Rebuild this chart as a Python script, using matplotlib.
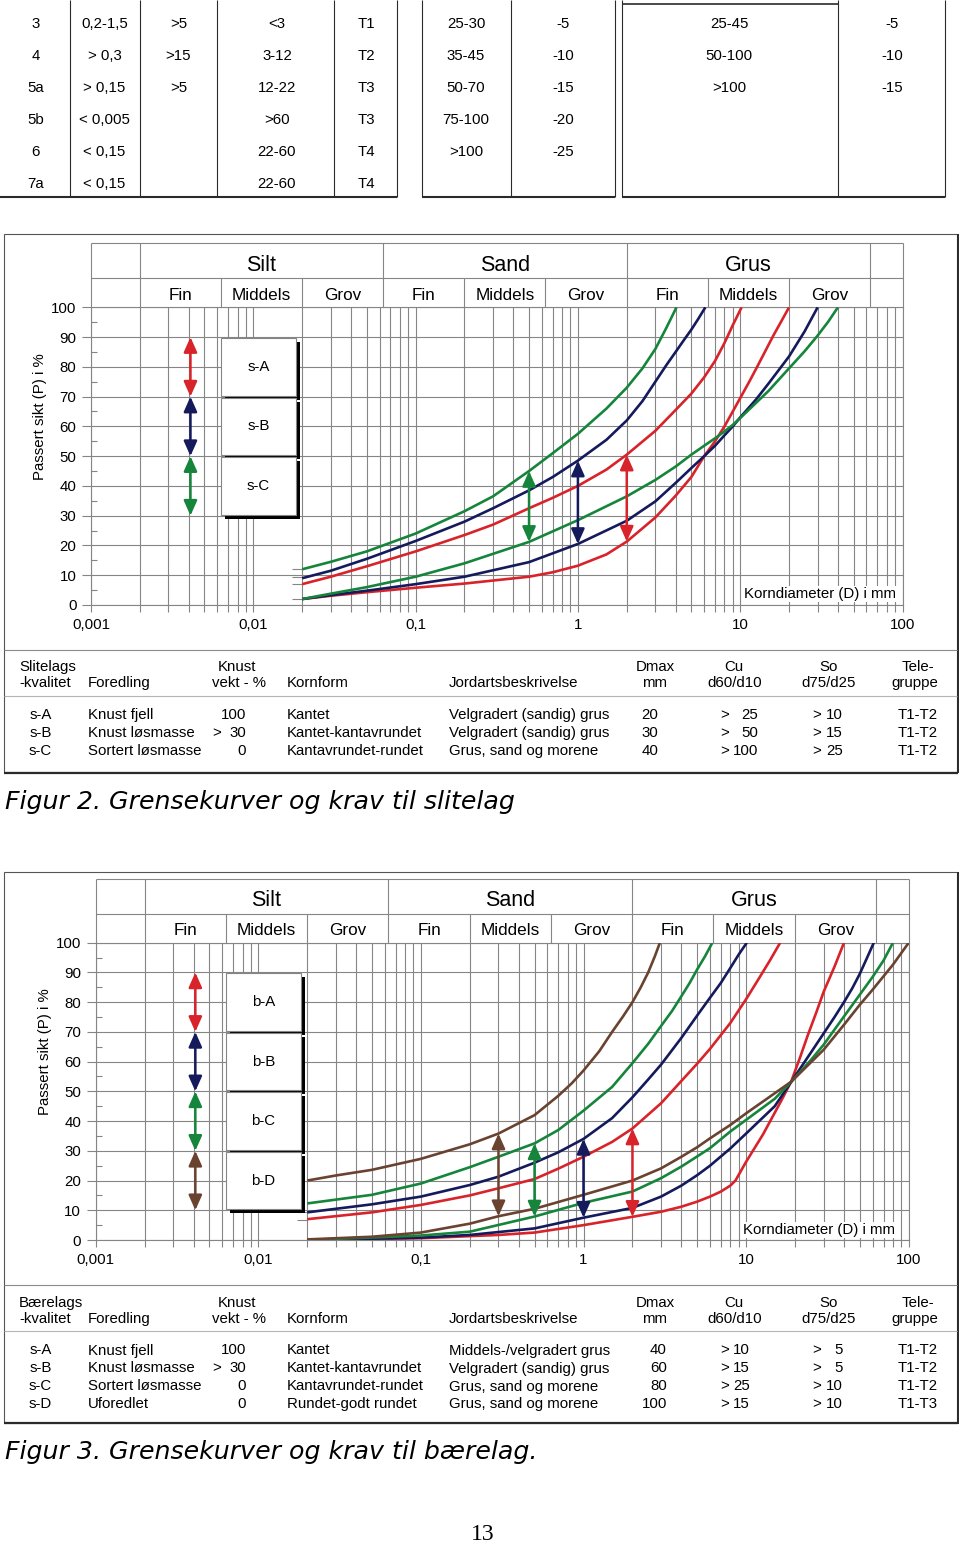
import numpy as np
import matplotlib
matplotlib.use("Agg")
import matplotlib.pyplot as plt
import matplotlib.transforms as mtransforms
from matplotlib.lines import Line2D
from matplotlib.patches import Rectangle
from matplotlib.ticker import FixedLocator, FixedFormatter, NullFormatter

plt.rcParams['font.family'] = ['Liberation Sans', 'DejaVu Sans']

W, H = 960, 1543
RED, NAVY, GREEN, BROWN = '#d8232a', '#141a5c', '#16853c', '#6a4330'
GRID = '#858585'
DARK = '#2a2a2a'

# ---------------- data ----------------
top_rows = [
    ["3", "0,2-1,5", ">5", "<3", "T1", "25-30", "-5", "25-45", "-5"],
    ["4", "> 0,3", ">15", "3-12", "T2", "35-45", "-10", "50-100", "-10"],
    ["5a", "> 0,15", ">5", "12-22", "T3", "50-70", "-15", ">100", "-15"],
    ["5b", "< 0,005", "", ">60", "T3", "75-100", "-20", "", ""],
    ["6", "< 0,15", "", "22-60", "T4", ">100", "-25", "", ""],
    ["7a", "< 0,15", "", "22-60", "T4", "", "", "", ""],
]

x_ticks = [0.001, 0.01, 0.1, 1, 10, 100]
x_tick_labels = ["0,001", "0,01", "0,1", "1", "10", "100"]
x_minor = [m * 10.0 ** e for e in range(-3, 2) for m in range(2, 10)]
y_ticks = list(range(0, 101, 10))
y_minor = list(range(5, 100, 10))

fraction_bounds = [0.001, 0.002, 0.0063, 0.02, 0.063, 0.2, 0.63, 2, 6.3, 20, 63, 100]
main_groups = ["Silt", "Sand", "Grus"]
sub_groups = ["Fin", "Middels", "Grov"]

# Chart 1 (slitelag) grading limits: (d in mm, passing %)
s1_A_fine_d = [0.02, 0.03, 0.05, 0.1, 0.2, 0.3, 0.5, 0.7, 1, 1.5, 2, 3, 4, 5, 6, 7, 8, 9, 10.2]
s1_A_fine_p = [7, 9.5, 13, 18, 23.5, 27, 32.5, 36, 40, 45.5, 50.5, 58.5, 65.5, 71, 76.5, 82, 88, 94, 100]
s1_A_coarse_d = [0.02, 0.03, 0.05, 0.1, 0.2, 0.5, 0.7, 1, 1.5, 2, 3, 4, 5, 6, 7, 8, 10, 11.5, 13, 16, 18, 20]
s1_A_coarse_p = [2, 3.1, 4.3, 5.8, 7.2, 9.5, 11, 13.2, 17, 21.3, 29.4, 36.7, 43, 50, 55, 60, 69.5, 75.5, 81, 90.5, 95.5, 100]
s1_B_fine_d = [0.02, 0.03, 0.05, 0.1, 0.2, 0.3, 0.5, 0.7, 1, 1.5, 2, 2.5, 3, 3.5, 4, 4.5, 5, 5.5, 6.1]
s1_B_fine_p = [9, 11.5, 15.5, 21.5, 28, 32.5, 38.5, 43, 48.5, 55.5, 62, 68.5, 75, 80.5, 85, 89, 92.5, 96, 100]
s1_B_coarse_d = [0.02, 0.03, 0.05, 0.1, 0.2, 0.5, 1, 2, 3, 4, 5, 6, 7, 8, 9, 10, 12.5, 15, 20, 25, 30]
s1_B_coarse_p = [2, 3.3, 4.8, 7, 9.5, 14.4, 20.5, 28.3, 34.8, 41, 46, 50, 53.5, 57, 60, 63, 69, 74.5, 83.5, 92, 100]
s1_C_fine_d = [0.02, 0.03, 0.05, 0.1, 0.2, 0.3, 0.5, 0.7, 1, 1.5, 2, 2.5, 3, 3.5, 4.05]
s1_C_fine_p = [12, 14.5, 18, 24, 31.5, 36.5, 45, 51, 57.5, 66, 73, 79.5, 86, 93, 100]
s1_C_coarse_d = [0.02, 0.03, 0.05, 0.1, 0.2, 0.5, 1, 2, 3, 4, 5, 6, 7, 8, 9, 10, 15, 20, 25, 30, 35, 40]
s1_C_coarse_p = [2, 3.8, 6, 9.5, 14, 21.2, 28.5, 36.5, 42, 46.5, 50.5, 53.5, 56, 58.3, 60.5, 62.8, 72, 79.5, 85.3, 90.5, 95.3, 100]
s1_arrows = [(0.5, 21.2, 45, GREEN), (1, 20.5, 48.5, NAVY), (2, 21.3, 50.5, RED)]
s1_classes = [("s-A", 70, 90, RED), ("s-B", 50, 70, NAVY), ("s-C", 30, 50, GREEN)]
s1_start_ticks = [12, 9.5, 7, 2]

# Chart 2 (bærelag) grading limits
b_A_fine_d = [0.02, 0.05, 0.1, 0.2, 0.3, 0.5, 0.7, 1, 1.5, 2, 3, 4, 5, 6, 8, 10, 12, 14, 16.2]
b_A_fine_p = [7, 9.3, 11.8, 15, 17.4, 20.5, 24, 28, 33, 37.5, 46, 53.5, 59.3, 64.3, 73, 81, 88, 94, 100]
b_A_coarse_d = [0.02, 0.1, 0.3, 0.5, 1, 2, 3, 4, 5, 6, 7, 8, 8.6, 10, 12.7, 16.4, 19, 21.5, 24, 27, 30, 35, 40]
b_A_coarse_p = [0, 0.6, 1.7, 2.5, 5, 7.8, 9.5, 11.2, 12.9, 14.6, 16.3, 18.3, 20, 26.3, 35.5, 46.7, 53.5, 61.5, 69, 76.5, 83.5, 92, 100]
b_B_fine_d = [0.02, 0.05, 0.1, 0.2, 0.3, 0.5, 0.7, 1, 1.5, 2, 2.5, 3, 4, 5, 6, 7, 8, 9, 10.1]
b_B_fine_p = [9.3, 12, 14.6, 18.5, 21.3, 26, 29.5, 34, 41, 48, 54, 59, 68, 75.5, 81.5, 86.5, 91.5, 96, 100]
b_B_coarse_d = [0.02, 0.1, 0.2, 0.5, 1, 2, 3, 4, 5, 6, 8, 10, 15, 19, 25, 30, 35, 40, 45, 50, 55, 61]
b_B_coarse_p = [0, 0.8, 1.7, 3.9, 7.5, 10.8, 14.6, 18.3, 21.8, 25, 30.8, 35.8, 45, 53.3, 63, 69.5, 75, 80, 84.7, 89.5, 94.5, 100]
b_C_fine_d = [0.02, 0.05, 0.1, 0.2, 0.3, 0.5, 0.7, 1, 1.5, 2, 2.5, 3, 3.5, 4, 4.5, 5, 5.6, 6.2]
b_C_fine_p = [12.3, 15.2, 19, 24.5, 28, 32.5, 37, 43.5, 51.5, 59.5, 66, 72, 77, 82, 86.5, 91, 95.5, 100]
b_C_coarse_d = [0.02, 0.1, 0.2, 0.5, 1, 2, 3, 4, 5, 6, 8, 10, 15, 19, 25, 30, 40, 50, 60, 70, 80]
b_C_coarse_p = [0, 1.5, 2.8, 7.9, 12.5, 16.3, 20.8, 24.7, 28.1, 30.9, 36.5, 40.4, 47.5, 53.3, 60.5, 65.7, 75.2, 82.5, 88.5, 94, 100]
b_D_fine_d = [0.02, 0.03, 0.05, 0.1, 0.2, 0.3, 0.5, 0.7, 0.85, 1, 1.25, 1.5, 1.75, 2, 2.25, 2.5, 2.75, 2.95]
b_D_fine_p = [20, 21.7, 23.6, 27.3, 32.2, 35.8, 42, 48.5, 52.8, 57, 63.5, 70, 75.2, 80, 85, 90, 95.5, 100]
b_D_coarse_d = [0.02, 0.05, 0.1, 0.2, 0.3, 0.5, 1, 2, 3, 4, 5, 6, 8, 10, 19, 30, 40, 50, 60, 70, 80, 100]
b_D_coarse_p = [0.2, 1.1, 2.5, 5.5, 8, 10.5, 15.2, 20, 24.1, 28, 31.2, 34.2, 38.7, 42.6, 53.3, 64, 72.4, 79.1, 84.2, 88.7, 92.6, 100]
b_arrows = [(0.3, 8, 35.8, BROWN), (0.5, 7.9, 32.5, GREEN), (1, 7.5, 34, NAVY), (2, 7.8, 37.5, RED)]
b_classes = [("b-A", 70, 90, RED), ("b-B", 50, 70, NAVY), ("b-C", 30, 50, GREEN), ("b-D", 10, 30, BROWN)]
b_start_ticks = [9.3, 6.7]

table_head_1 = [("Knust", 237, 'center'), ("Dmax", 655, 'center'), ("Cu", 734, 'center'),
                ("So", 829, 'center'), ("Tele-", 918, 'center')]
table_head_2 = [("-kvalitet", 19, 'left'), ("Foredling", 88, 'left'), ("vekt - %", 239, 'center'),
                ("Kornform", 287, 'left'), ("Jordartsbeskrivelse", 449, 'left'), ("mm", 655, 'center'),
                ("d60/d10", 735, 'center'), ("d75/d25", 829, 'center'), ("gruppe", 915, 'center')]

t1_rows = [
    ["s-A", "Knust fjell", "100", "Kantet", "Velgradert (sandig) grus", "20", "> 25", "> 10", "T1-T2"],
    ["s-B", "Knust løsmasse", "> 30", "Kantet-kantavrundet", "Velgradert (sandig) grus", "30", "> 50", "> 15", "T1-T2"],
    ["s-C", "Sortert løsmasse", "0", "Kantavrundet-rundet", "Grus, sand og morene", "40", "> 100", "> 25", "T1-T2"],
]
t2_rows = [
    ["s-A", "Knust fjell", "100", "Kantet", "Middels-/velgradert grus", "40", "> 10", "> 5", "T1-T2"],
    ["s-B", "Knust løsmasse", "> 30", "Kantet-kantavrundet", "Velgradert (sandig) grus", "60", "> 15", "> 5", "T1-T2"],
    ["s-C", "Sortert løsmasse", "0", "Kantavrundet-rundet", "Grus, sand og morene", "80", "> 25", "> 10", "T1-T2"],
    ["s-D", "Uforedlet", "0", "Rundet-godt rundet", "Grus, sand og morene", "100", "> 15", "> 10", "T1-T3"],
]

# ---------------- drawing ----------------
fig = plt.figure(figsize=(W / 100, H / 100), dpi=100)
fig.patch.set_facecolor('white')


def X(p):
    return p / W


def Y(p):
    return 1 - p / H


def hline(x0, x1, y, color=DARK, lw=0.8):
    fig.add_artist(Line2D([X(x0), X(x1)], [Y(y), Y(y)], color=color, lw=lw, solid_capstyle='butt'))


def vline(x, y0, y1, color=DARK, lw=0.8):
    fig.add_artist(Line2D([X(x), X(x)], [Y(y0), Y(y1)], color=color, lw=lw, solid_capstyle='butt'))


def txt(x, y, s, ha='center', size=10.8, **kw):
    fig.text(X(x), Y(y), s, ha=ha, va='center', fontsize=size, **kw)


# top table
top_col_x = [35.7, 104.6, 178.5, 277, 366, 466, 563, 729, 892]
top_row_y = [24.5, 56.5, 88.5, 120.5, 152, 183.5]
for r, row in enumerate(top_rows):
    for c, s in enumerate(row):
        if s:
            txt(top_col_x[c], top_row_y[r], s)
for x in [69.5, 139.7, 216.6, 334, 397, 421.5, 510.8, 615.4, 621.5, 838, 944.6]:
    vline(x, 0, 196.5)
for a, b in [(0, 397), (421.5, 615.4), (621.5, 944.6)]:
    hline(a, b, 196.5, lw=1.5)
hline(621.5, 838, 4, lw=1.2)


def chart(x0, x1, y100, y0, htop, hmid, curves, arrows, classes, start_ticks, kd_xy, ylab_xy):
    ax = fig.add_axes([X(x0), Y(y0), (x1 - x0) / W, (y0 - y100) / H])
    ax.set_xscale('log')
    ax.set_xlim(x_ticks[0], x_ticks[-1])
    ax.set_ylim(0, 100)
    ax.set_axisbelow(True)
    ax.xaxis.set_major_locator(FixedLocator(x_ticks))
    ax.xaxis.set_major_formatter(FixedFormatter(x_tick_labels))
    ax.xaxis.set_minor_locator(FixedLocator(x_minor))
    ax.xaxis.set_minor_formatter(NullFormatter())
    ax.yaxis.set_major_locator(FixedLocator(y_ticks))
    ax.yaxis.set_minor_locator(FixedLocator(y_minor))
    ax.grid(True, which='both', axis='x', color=GRID, lw=0.8)
    ax.grid(True, which='major', axis='y', color=GRID, lw=0.8)
    ax.tick_params(axis='x', which='both', direction='out', length=5, color=GRID, width=0.8,
                   pad=4.5, labelsize=10.8)
    ax.tick_params(axis='y', which='major', direction='out', length=6.5, color=GRID, width=0.8,
                   pad=4, labelsize=10.8)
    ax.tick_params(axis='y', which='minor', direction='in', length=4.5, color=GRID, width=0.8)
    for s in ax.spines.values():
        s.set_color(GRID)
        s.set_linewidth(0.8)

    # header
    axh = fig.add_axes([X(x0), Y(y100), (x1 - x0) / W, (y100 - htop) / H])
    axh.set_xscale('log')
    axh.set_xlim(x_ticks[0], x_ticks[-1])
    axh.set_ylim(0, 1)
    axh.axis('off')
    m = (y100 - hmid) / (y100 - htop)
    axh.hlines([m, 1], x_ticks[0], x_ticks[-1], color=GRID, lw=0.8, clip_on=False)
    for i, b in enumerate(fraction_bounds):
        top = 1 if i % 3 == 1 or i in (0, len(fraction_bounds) - 1) else m
        axh.vlines(b, 0, top, color=GRID, lw=0.8, clip_on=False)
    for g in range(3):
        a, b = fraction_bounds[1 + 3 * g], fraction_bounds[4 + 3 * g]
        axh.text(np.sqrt(a * b), (m + 1) / 2 - 0.07, main_groups[g], ha='center', va='center',
                 fontsize=15.5)
        for k in range(3):
            a, b = fraction_bounds[1 + 3 * g + k], fraction_bounds[2 + 3 * g + k]
            axh.text(np.sqrt(a * b), m / 2 - 0.04, sub_groups[k], ha='center', va='center',
                     fontsize=12.3)

    # curves
    for d, p, c in curves:
        ax.plot(d, p, color=c, lw=1.9, zorder=4, solid_capstyle='butt', solid_joinstyle='round')
    ax.hlines(start_ticks, 0.0172, 0.02, color=GRID, lw=0.8, zorder=3)

    # in-plot arrows
    style = '<|-|>,head_length=0.45,head_width=0.2'
    for d, lo, hi, c in arrows:
        ax.annotate('', xy=(d, hi), xytext=(d, lo), zorder=7, annotation_clip=False,
                    arrowprops=dict(arrowstyle=style, color=c, lw=1.8, shrinkA=0, shrinkB=0,
                                    mutation_scale=20))

    # class boxes + arrows at left
    bx0, bx1 = 0.0063, 0.0183
    sh = mtransforms.offset_copy(ax.transData, fig=fig, x=4, y=-4, units='dots')
    for lab, lo, hi, c in classes:
        ax.add_patch(Rectangle((bx0, lo + 0.3), bx1 - bx0, hi - lo - 0.6, transform=sh,
                               facecolor='black', edgecolor='none', zorder=5))
    for lab, lo, hi, c in classes:
        ax.add_patch(Rectangle((bx0, lo + 0.3), bx1 - bx0, hi - lo - 0.6, facecolor='white',
                               edgecolor=GRID, lw=0.8, zorder=6))
        ax.text(np.sqrt(bx0 * bx1), (lo + hi) / 2, lab, ha='center', va='center',
                fontsize=10.8, zorder=7)
        ax.annotate('', xy=(0.0041, hi), xytext=(0.0041, lo), zorder=7,
                    arrowprops=dict(arrowstyle=style, color=c, lw=1.8, shrinkA=0, shrinkB=0,
                                    mutation_scale=20))

    ax.text(kd_xy[0], kd_xy[1], 'Korndiameter (D) i mm', transform=ax.transAxes, ha='right',
            va='center', fontsize=10.8, zorder=3,
            bbox=dict(facecolor='white', edgecolor='none', pad=1.0))
    txt(ylab_xy[0], ylab_xy[1], 'Passert sikt (P) i %', rotation=90)
    return ax


def table(first, rows, y_hdr1, y_hdr2, row_y, dmax_x, dmax_ha, cu_right):
    txt(19, y_hdr1, first, ha='left')
    for s, x, ha in table_head_1:
        txt(x, y_hdr1, s, ha=ha)
    for s, x, ha in table_head_2:
        txt(x, y_hdr2, s, ha=ha)

    def gt(s, xl, xr, y):
        if s.startswith('>'):
            txt(xl, y, '>', ha='left')
            txt(xr, y, s[1:].strip(), ha='right')
        else:
            txt(xr, y, s, ha='right')

    for r, y in zip(rows, row_y):
        txt(40.5, y, r[0])
        txt(88, y, r[1], ha='left')
        gt(r[2], 212, 246, y)
        txt(287, y, r[3], ha='left')
        txt(449, y, r[4], ha='left')
        txt(dmax_x, y, r[5], ha=dmax_ha)
        gt(r[6], 720, cu_right, y)
        gt(r[7], 812, 843, y)
        txt(918, y, r[8])


def frame(top, bottom, line1, line2):
    fig.add_artist(Rectangle((X(4), Y(bottom)), (957 - 4) / W, (bottom - top) / H, fill=False,
                             ec='#555555', lw=0.8))
    hline(4, 958, bottom + 0.5, color=DARK, lw=1.6)
    vline(957.5, top, bottom + 1, color=DARK, lw=1.4)
    hline(4, 957, line1, color='#8a8a8a', lw=0.8)
    hline(4, 957, line2, color='#b5b5b5', lw=0.8)


# chart 1
frame(234, 772, 650, 695.5)
chart(91, 902.5, 307.3, 605, 243.3, 278.3,
      [(s1_A_fine_d, s1_A_fine_p, RED), (s1_A_coarse_d, s1_A_coarse_p, RED),
       (s1_B_fine_d, s1_B_fine_p, NAVY), (s1_B_coarse_d, s1_B_coarse_p, NAVY),
       (s1_C_fine_d, s1_C_fine_p, GREEN), (s1_C_coarse_d, s1_C_coarse_p, GREEN)],
      s1_arrows, s1_classes, s1_start_ticks, (0.9926, 0.037), (40, 417))
table("Slitelags", t1_rows, 667, 683, [715, 733, 751], 650, 'center', 758)
fig.text(X(5), Y(801.5), 'Figur 2. Grensekurver og krav til slitelag', ha='left', va='center',
         fontsize=18.2, family='DejaVu Sans', style='italic')

# chart 2
frame(871.7, 1422.7, 1285, 1331)
chart(95.7, 908.7, 942.7, 1240, 879, 914,
      [(b_A_fine_d, b_A_fine_p, RED), (b_A_coarse_d, b_A_coarse_p, RED),
       (b_B_fine_d, b_B_fine_p, NAVY), (b_B_coarse_d, b_B_coarse_p, NAVY),
       (b_C_fine_d, b_C_fine_p, GREEN), (b_C_coarse_d, b_C_coarse_p, GREEN),
       (b_D_fine_d, b_D_fine_p, BROWN), (b_D_coarse_d, b_D_coarse_p, BROWN)],
      b_arrows, b_classes, b_start_ticks, (0.983, 0.034), (45, 1052))
table("Bærelags", t2_rows, 1303, 1319, [1350.5, 1368.5, 1386.5, 1404], 667, 'right', 750)
fig.text(X(5), Y(1451.5), 'Figur 3. Grensekurver og krav til bærelag.', ha='left', va='center',
         fontsize=18.2, family='DejaVu Sans', style='italic')

fig.text(X(483), Y(1535), '13', ha='center', va='center', fontsize=17, family='Liberation Serif')

fig.savefig('out.png', dpi=100, facecolor='white')
